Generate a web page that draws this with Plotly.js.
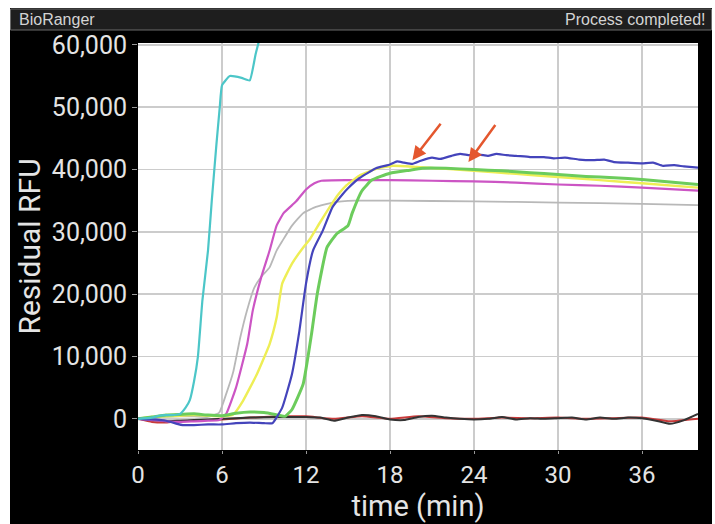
<!DOCTYPE html>
<html>
<head>
<meta charset="utf-8">
<script src="https://cdn.plot.ly/plotly-3.0.1.min.js"></script>
<style>
html,body{margin:0;padding:0;background:#ffffff;width:715px;height:524px;overflow:hidden;}
#chart{position:absolute;left:10px;top:8px;width:702px;height:516px;}
</style>
</head>
<body>
<div id="chart"></div>
<script>
// ---- data (time in minutes, residual RFU) ----
const cyanT = [0, 1, 1.5, 2, 2.5, 3.0, 3.4, 3.7, 4.0, 4.28, 4.6, 5.0, 5.27, 5.6, 5.84, 6.0, 6.56, 7.4, 7.98, 8.4, 8.8];
const cyanV = [0, 200, 500, 600, 600, 800, 1800, 3000, 6000, 10000, 19000, 27000, 35000, 44000, 50000, 53500, 55000, 54700, 54300, 58500, 62000];

const magentaT = [0, 1, 2, 3, 4, 5, 5.8, 6.3, 7.0, 7.8, 8.2, 8.8, 9.4, 9.9, 10.4, 11.3, 12.0, 12.6, 13.1, 15, 18, 21, 24, 27, 30, 33, 36, 40];
const magentaV = [0, -200, -400, -500, -400, -300, -200, 800, 5000, 12000, 17400, 22700, 27000, 31000, 33000, 34900, 36800, 37800, 38200, 38300, 38300, 38200, 38100, 37900, 37600, 37400, 37100, 36600];

const grayT = [0, 1, 2, 3, 4, 5.0, 5.8, 6.3, 6.8, 7.3, 7.8, 8.3, 8.8, 9.4, 9.9, 10.3, 11.0, 11.8, 12.7, 13.9, 15.5, 18, 24, 30, 36, 40];
const grayV = [0, 200, 300, 400, 400, 300, 1000, 4000, 7500, 13000, 17500, 21000, 22800, 24300, 27000, 28500, 31000, 33000, 34000, 34700, 35000, 35000, 34900, 34700, 34500, 34300];

const yellowT = [0, 1, 2, 3, 4, 5, 6, 6.8, 7.5, 8.5, 9.4, 9.9, 10.3, 11.0, 11.8, 12.3, 13.0, 13.7, 14.3, 14.9, 15.8, 17.0, 18.2, 19.9, 22, 24, 27, 30, 33, 36, 40];
const yellowV = [0, 300, 400, 500, 600, 500, 400, 700, 2900, 7200, 12000, 16200, 21700, 24900, 27500, 28900, 31500, 34000, 36000, 37500, 39000, 40100, 40600, 40400, 40100, 39800, 39300, 38800, 38300, 37800, 37100];

const blueT = [0, 1, 2, 2.8, 3.2, 4, 5, 6, 7, 8, 9, 9.6, 10.3, 11.0, 11.5, 12.0, 12.5, 13.2, 13.9, 14.6, 15.0, 15.8, 17.0, 18.0, 18.5, 19.0, 19.6, 20.2, 21.0, 21.6, 22.4, 23.0, 23.7, 24.4, 25.0, 25.6, 26.3, 27, 28, 29, 29.7, 30.5, 31.5, 32.5, 33.3, 34, 35, 36, 36.8, 37.5, 38.3, 39, 40];
const blueV = [0, -100, -300, -800, -1000, -1000, -900, -900, -700, -600, -700, -700, 1800, 7200, 13700, 21700, 27000, 30200, 34000, 36000, 37000, 38600, 40200, 40800, 41300, 41100, 40900, 41400, 41900, 41700, 42200, 42500, 42300, 42400, 42200, 42500, 42300, 42200, 42000, 42000, 41800, 41900, 41600, 41500, 41600, 41200, 41100, 41000, 41100, 40600, 40700, 40500, 40300];

const greenT = [0, 1, 2, 3, 4, 5, 6, 7, 8, 9, 9.8, 10.5, 11.0, 11.8, 12.4, 12.8, 13.5, 14.2, 15.0, 15.3, 16.0, 16.7, 18, 19.4, 20.3, 22, 24, 26, 28, 30, 32, 34, 36, 38, 40];
const greenV = [0, 300, 600, 700, 800, 600, 500, 900, 1100, 1000, 700, 400, 1500, 5600, 13700, 20000, 27500, 29700, 31000, 33000, 36600, 38300, 39400, 39900, 40200, 40200, 40000, 39800, 39500, 39200, 38900, 38700, 38400, 38000, 37600];

const blackT = [0, 1, 2, 3, 4, 6, 8, 10, 12, 13, 14, 15, 16, 17, 18, 19, 20, 21, 22, 23, 24, 25, 26, 27, 28, 29, 30, 31, 32, 33, 34, 35, 36, 37, 38, 39, 40];
const blackV = [0, -200, -400, -300, -200, 0, 200, 300, 300, 200, -300, 200, 600, 400, -100, -200, 300, 500, 200, 0, -100, 0, 300, -100, 100, 0, 100, 200, -100, 200, 0, 200, 100, -300, -800, -200, 800];

const redT = [0, 1, 2, 3, 4, 6, 8, 10, 12, 14, 16, 18, 20, 22, 24, 26, 28, 30, 32, 34, 36, 38, 40];
const redV = [0, -500, -600, -400, -300, -100, 200, 400, 400, 0, 400, 0, 400, 100, 0, 200, 100, 200, 0, 100, 200, -400, 0];

const xTicks = [0, 6, 12, 18, 24, 30, 36];
const yTicks = [0, 10000, 20000, 30000, 40000, 50000, 60000];
const yTickText = ['0', '10,000', '20,000', '30,000', '40,000', '50,000', '60,000'];

// arrows: [headT, headV, tailT, tailV]
const arrow1 = [19.6, 41500, 21.7, 47600];
const arrow2 = [23.6, 41200, 25.6, 47400];

// ---- traces ----
function line(t, v, color, width) {
  return {x: t, y: v, type: 'scatter', mode: 'lines', line: {color: color, width: width, shape: 'spline', smoothing: 0.4}, hoverinfo: 'skip', showlegend: false};
}
const traces = [
  line(redT, redV, '#c83a3a', 2),
  line(blackT, blackV, '#333333', 2),
  line(grayT, grayV, '#b8b8b8', 1.8),
  line(magentaT, magentaV, '#cc55c4', 2.2),
  line(yellowT, yellowV, '#eeee55', 2.4),
  line(greenT, greenV, '#6ccc5c', 3),
  line(blueT, blueV, '#4444bb', 2.2),
  line(cyanT, cyanV, '#4cc6c8', 2.2)
];

// ---- layout (plot area inside 702 x 516) ----
const L = 128, R = 14, T = 35, B = 74, W = 702, H = 516;
const pw = W - L - R, ph = H - T - B;
function px(xp) { return (xp - L) / pw; }
function py(yp) { return (H - B - yp) / ph; }

const tickFont = {family: 'Roboto, sans-serif', size: 24, color: '#e4e4e4'};
const layout = {
  width: W, height: H,
  paper_bgcolor: '#000000',
  plot_bgcolor: '#ffffff',
  margin: {l: L, r: R, t: T, b: B},
  font: {family: 'Roboto, sans-serif', color: '#e4e4e4'},
  xaxis: {
    range: [0, 40], tickvals: xTicks, ticktext: xTicks.map(String),
    showgrid: true, gridcolor: '#cccccc', gridwidth: 1.5, zeroline: false, showline: false,
    ticks: 'outside', ticklen: 3, tickcolor: '#999999', tickfont: tickFont,
    title: {text: 'time (min)', font: {family: 'Roboto, sans-serif', size: 29, color: '#e4e4e4'}, standoff: 0}
  },
  yaxis: {
    range: [-5000, 60300], tickvals: yTicks, ticktext: yTickText,
    showgrid: true, gridcolor: '#cccccc', gridwidth: 1.5, zeroline: false, showline: false,
    ticks: 'outside', ticklen: 5, tickcolor: '#999999', tickfont: {family: 'Roboto, sans-serif', size: 25, color: '#e4e4e4'},
    title: {text: 'Residual RFU', font: {family: 'Roboto, sans-serif', size: 30, color: '#e4e4e4'}, standoff: 2}
  },
  shapes: [
    {type: 'rect', xref: 'paper', yref: 'paper', x0: px(0.5), x1: px(701.5), y0: py(22), y1: py(1),
     fillcolor: '#1e1e1e', line: {color: '#6a6a6a', width: 1}, layer: 'above'}
  ],
  annotations: [
    {xref: 'paper', yref: 'paper', x: px(7), y: py(11.5), xanchor: 'left', yanchor: 'middle', showarrow: false,
     text: 'BioRanger', font: {family: 'Liberation Sans, Arial, sans-serif', size: 16, color: '#d4d4d4'}},
    {xref: 'paper', yref: 'paper', x: px(698), y: py(11.5), xanchor: 'right', yanchor: 'middle', showarrow: false,
     text: 'Process completed!', font: {family: 'Liberation Sans, Arial, sans-serif', size: 16, color: '#d4d4d4'}},
    {x: arrow1[0], y: arrow1[1], ax: arrow1[2], ay: arrow1[3], xref: 'x', yref: 'y', axref: 'x', ayref: 'y',
     text: '', showarrow: true, arrowhead: 2, arrowsize: 1.1, arrowwidth: 2.5, arrowcolor: '#e4572e'},
    {x: arrow2[0], y: arrow2[1], ax: arrow2[2], ay: arrow2[3], xref: 'x', yref: 'y', axref: 'x', ayref: 'y',
     text: '', showarrow: true, arrowhead: 2, arrowsize: 1.1, arrowwidth: 2.5, arrowcolor: '#e4572e'}
  ]
};

Plotly.newPlot('chart', traces, layout, {displayModeBar: false, staticPlot: true});
</script>
</body>
</html>
